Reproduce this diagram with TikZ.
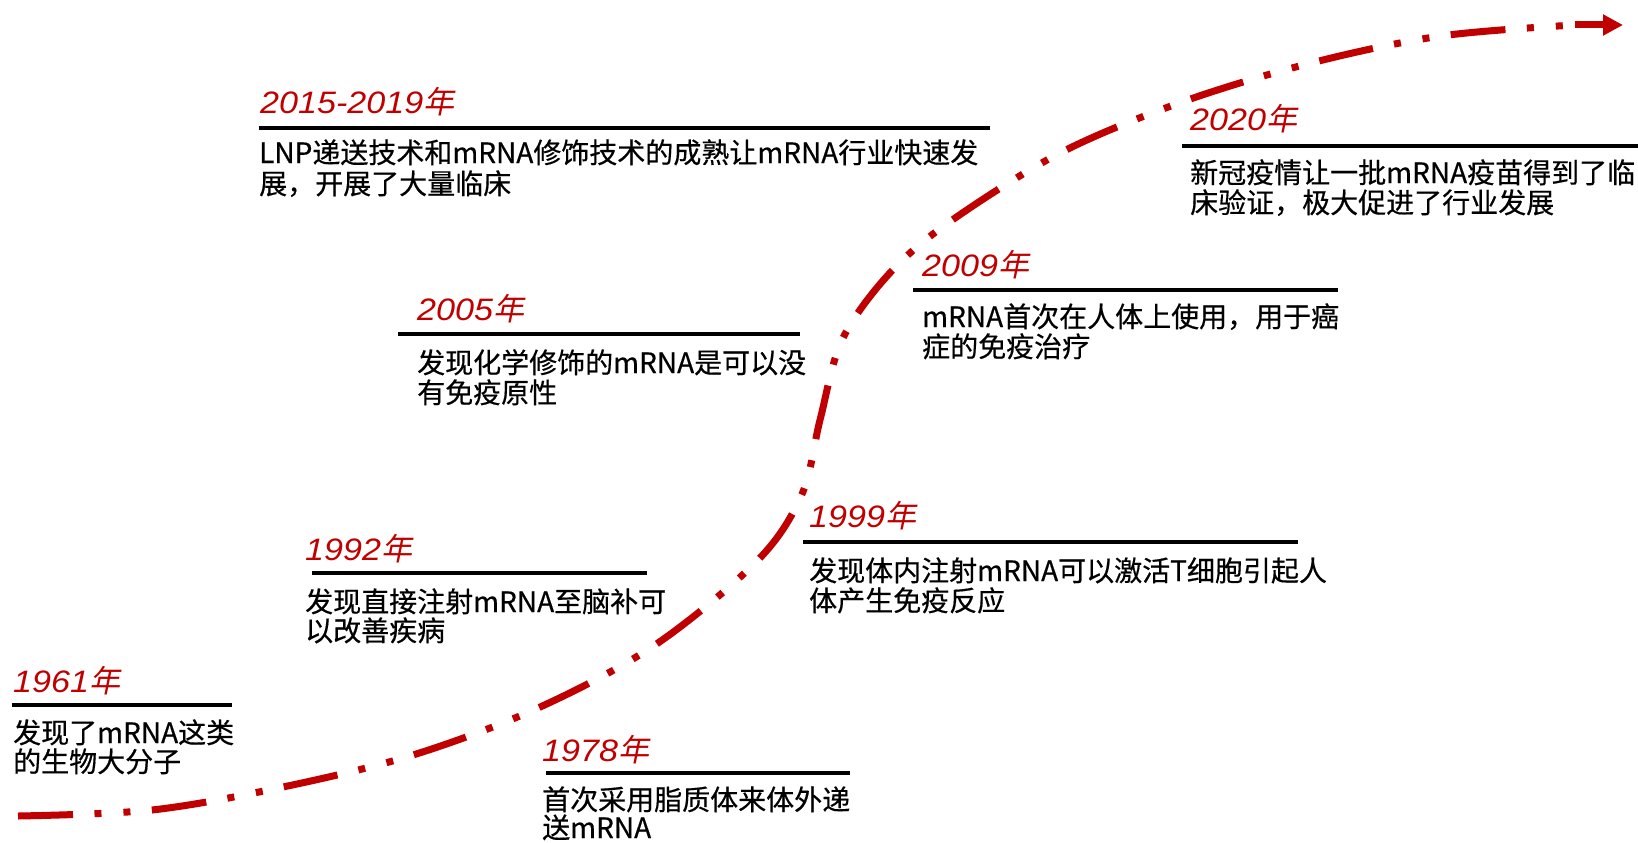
\documentclass[tikz,border=0pt]{standalone}
\usepackage{fontspec}
\usetikzlibrary{arrows.meta}
\newfontfamily\cjk{Noto Sans CJK SC}[FakeBold=0.5]
\newfontfamily\yrnum{Liberation Sans}[FakeStretch=1.1]
\newfontfamily\yrcjk{Noto Sans CJK SC}[FakeSlant=0.2]
\definecolor{myred}{HTML}{C00000}
\newcommand\yearlab[1]{{\yrnum\itshape #1}{\yrcjk 年}}
\tikzset{
  yearlbl/.style={anchor=base west, inner sep=0pt, text=myred, font=\fontsize{31}{31}\selectfont},
  bodyline/.style={anchor=base west, inner sep=0pt, text=black, font=\cjk\fontsize{28}{29}\selectfont},
  yrule/.style={draw=black, line width=3.5pt},
  curve/.style={draw=myred, line width=7pt, line cap=butt,
    dash pattern=on 55pt off 21.5pt on 7pt off 22pt on 7pt off 21.5pt},
  tipline/.style={draw=myred, line width=7pt, -{Triangle[length=20pt,width=20pt]}},
}
\begin{document}
\begin{tikzpicture}[x=1pt,y=-1pt]
\useasboundingbox (0,0) rectangle (1638,843);
% curve
\coordinate (cs) at (18,816);
\coordinate (ce) at (1575,25);
\coordinate (tip) at (1623,25);
\draw[curve] plot[smooth, tension=0.55] coordinates {(18,816) (152,810) (283,787) (413,755) (538,708) (655,645) (758,560) (802,494) (820,420) (842,340) (888,275) (948,223) (1060,153) (1182,102) (1311,63) (1441,36) (1575,25)};
\draw[tipline] (ce) -- (tip);

% 1961
\node[yearlbl] (y1961) at (13,692) {\yearlab{1961}};
\draw[yrule] (12,705) -- (232,705);
\node[bodyline] (t1961a) at (13,743) {发现了mRNA这类};
\node[bodyline] (t1961b) at (13,772) {的生物大分子};

% 1978
\node[yearlbl] (y1978) at (542,761) {\yearlab{1978}};
\draw[yrule] (546,773) -- (850,773);
\node[bodyline] (t1978a) at (542,810) {首次采用脂质体来体外递};
\node[bodyline] (t1978b) at (542,838) {送mRNA};

% 1992
\node[yearlbl] (y1992) at (305,560) {\yearlab{1992}};
\draw[yrule] (312,573) -- (647,573);
\node[bodyline] (t1992a) at (305,612) {发现直接注射mRNA至脑补可};
\node[bodyline] (t1992b) at (305,641) {以改善疾病};

% 2005
\node[yearlbl] (y2005) at (417,320) {\yearlab{2005}};
\draw[yrule] (398,334) -- (800,334);
\node[bodyline] (t2005a) at (417,373) {发现化学修饰的mRNA是可以没};
\node[bodyline] (t2005b) at (417,403) {有免疫原性};

% 2015-2019
\node[yearlbl] (y2015) at (260,113) {\yearlab{2015-2019}};
\draw[yrule] (259,128) -- (990,128);
\node[bodyline] (t2015a) at (259,163) {LNP递送技术和mRNA修饰技术的成熟让mRNA行业快速发};
\node[bodyline] (t2015b) at (259,194) {展，开展了大量临床};

% 1999
\node[yearlbl] (y1999) at (809,527) {\yearlab{1999}};
\draw[yrule] (803,542) -- (1298,542);
\node[bodyline] (t1999a) at (809,581) {发现体内注射mRNA可以激活T细胞引起人};
\node[bodyline] (t1999b) at (809,611) {体产生免疫反应};

% 2009
\node[yearlbl] (y2009) at (922,276) {\yearlab{2009}};
\draw[yrule] (913,290) -- (1338,290);
\node[bodyline] (t2009a) at (922,327) {mRNA首次在人体上使用，用于癌};
\node[bodyline] (t2009b) at (922,357) {症的免疫治疗};

% 2020
\node[yearlbl] (y2020) at (1190,130) {\yearlab{2020}};
\draw[yrule] (1182,146) -- (1638,146);
\node[bodyline] (t2020a) at (1190,183) {新冠疫情让一批mRNA疫苗得到了临};
\node[bodyline] (t2020b) at (1190,213) {床验证，极大促进了行业发展};
\end{tikzpicture}
\end{document}
